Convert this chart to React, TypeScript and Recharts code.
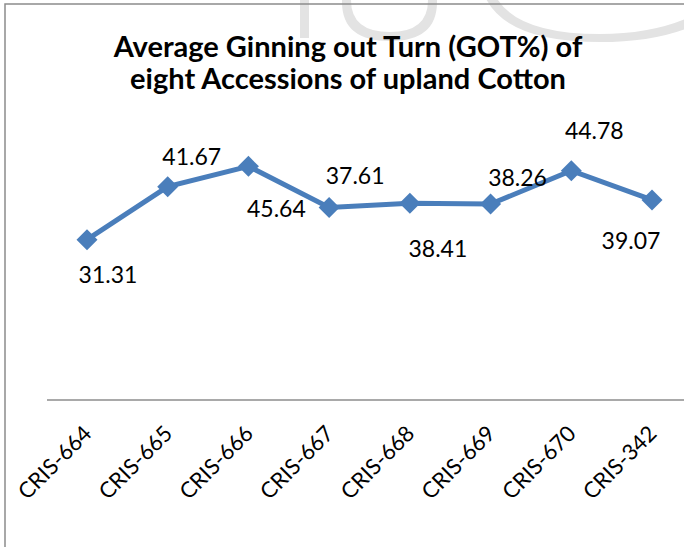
import { LineChart, Line, XAxis, YAxis, LabelList } from 'recharts';

const accessions = ['CRIS-664', 'CRIS-665', 'CRIS-666', 'CRIS-667', 'CRIS-668', 'CRIS-669', 'CRIS-670', 'CRIS-342'];
const gotValues = [31.31, 41.67, 45.64, 37.61, 38.41, 38.26, 44.78, 39.07];
const titleLines = ['Average Ginning out Turn (GOT%) of', 'eight Accessions of upland Cotton'];

const data = accessions.map((name, i) => ({ name, got: gotValues[i] }));

// where Excel dropped each data label, relative to its point
const labelOffsets = [
  [21, 34], [24, -31], [28, 42], [26, -32],
  [28, 45], [27, -27], [23, -41], [-21, 40],
];

const BLUE = '#4A7EBB';
const FONT = 'Lato, "Open Sans", sans-serif';

const Diamond = (props: any) => {
  const { cx, cy } = props;
  if (cx == null || cy == null) return null;
  const r = 10.5;
  return <polygon points={`${cx},${cy - r} ${cx + r},${cy} ${cx},${cy + r} ${cx - r},${cy}`} fill={BLUE} />;
};

const Tick = (props: any) => {
  const { x, y, payload } = props;
  return (
    <g transform={`translate(${x + 6},${y + 27})`}>
      <text textAnchor="end" transform="rotate(-45)" fontSize={22} fill="#000" fontFamily={FONT}>
        {payload.value}
      </text>
    </g>
  );
};

const ValueLabel = (props: any) => {
  const { x, y, value, index } = props;
  const [dx, dy] = labelOffsets[index] || [0, -20];
  return (
    <text x={x + dx} y={y + dy} textAnchor="middle" dominantBaseline="central" fontSize={23} fill="#000" fontFamily={FONT}>
      {value}
    </text>
  );
};

export default function App() {
  return (
    <div style={{ position: 'fixed', left: 0, top: 0, width: 684, height: 547, overflow: 'hidden', background: '#fff' }}>
      <svg width={684} height={547} style={{ position: 'absolute', left: 0, top: 0 }}>
        <g fill="#e3e3e3">
          <rect x={300} y={-20} width={9} height={58} />
          <path d="M342,-20 L351,-20 L351,0 Q351,32 390,32 Q428,32 428,0 L428,-20 L437,-20 L437,2 Q437,41 390,41 Q342,41 342,2 Z" />
          <path d="M700,12 Q660,34 600,34 Q500,34 490,-20 L480,-20 Q490,42 600,42 Q665,42 705,20 Z" />
        </g>
        <rect x={5} y={4} width={760} height={600} fill="none" stroke="#8c8c8c" strokeWidth={1.5} />
        <g fontFamily={FONT} fontWeight="bold" fontSize={29} textAnchor="middle" fill="#000">
          <text x={348} y={57}>{titleLines[0]}</text>
          <text x={348} y={89}>{titleLines[1]}</text>
        </g>
      </svg>
      <div style={{ position: 'absolute', left: 0, top: 0 }}>
        <LineChart width={700} height={547} data={data} margin={{ top: 144, right: 8, bottom: 87, left: 47 }}>
          <XAxis
            dataKey="name"
            interval={0}
            tickLine={false}
            axisLine={{ stroke: '#8c8c8c', strokeWidth: 1.5 }}
            tick={<Tick />}
            height={60}
            padding={{ left: 40, right: 40 }}
          />
          <YAxis hide domain={[0, 50]} />
          <Line
            dataKey="got"
            stroke={BLUE}
            strokeWidth={5}
            dot={<Diamond />}
            activeDot={false}
            isAnimationActive={false}
          >
            <LabelList dataKey="got" content={<ValueLabel />} />
          </Line>
        </LineChart>
      </div>
    </div>
  );
}
